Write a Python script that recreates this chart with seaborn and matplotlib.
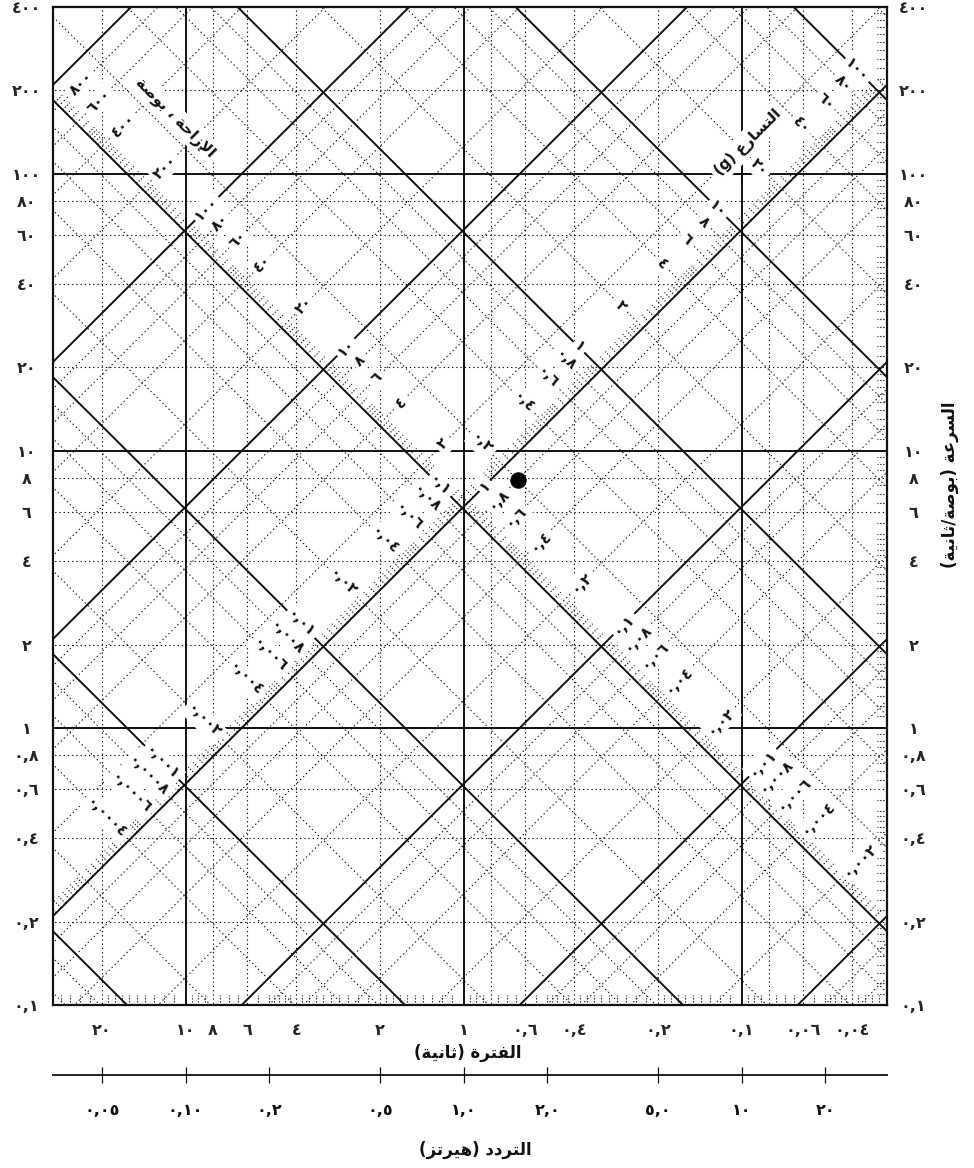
import numpy as np
import pandas as pd
import matplotlib
matplotlib.use("Agg")
import matplotlib.pyplot as plt
import seaborn as sns

# ---------------- data ----------------
G = 386.4  # in/s^2
PERIOD_TICKS = [20, 10, 8, 6, 4, 2, 1, 0.6, 0.4, 0.2, 0.1, 0.06, 0.04]
PERIOD_LABELS = ['٢٠', '١٠', '٨', '٦', '٤', '٢', '١', '٠,٦', '٠,٤', '٠,٢', '٠,١', '٠,٠٦', '٠,٠٤']
FREQ_TICKS = [0.05, 0.1, 0.2, 0.5, 1.0, 2.0, 5.0, 10, 20]
FREQ_LABELS = ['٠,٠٥', '٠,١٠', '٠,٢', '٠,٥', '١,٠', '٢,٠', '٥,٠', '١٠', '٢٠']
VEL_TICKS = [0.1, 0.2, 0.4, 0.6, 0.8, 1, 2, 4, 6, 8, 10, 20, 40, 60, 80, 100, 200, 400]
VEL_LABELS = ['٠,١', '٠,٢', '٠,٤', '٠,٦', '٠,٨', '١', '٢', '٤', '٦', '٨', '١٠', '٢٠', '٤٠', '٦٠', '٨٠',
              '١٠٠', '٢٠٠', '٤٠٠']
DISP_LABEL_VALUES = [800, 600, 400, 200, 100, 80, 60, 40, 20, 10, 8, 6, 4, 2, 1, 0.8, 0.6, 0.4, 0.2, 0.1,
                     0.08, 0.06, 0.04, 0.02, 0.01, 0.008, 0.006, 0.004, 0.002]
DISP_LABELS = ['٨٠٠', '٦٠٠', '٤٠٠', '٢٠٠', '١٠٠', '٨٠', '٦٠', '٤٠', '٢٠', '١٠', '٨', '٦', '٤', '٢', '١',
               '٠,٨', '٠,٦', '٠,٤', '٠,٢', '٠,١', '٠,٠٨', '٠,٠٦', '٠,٠٤', '٠,٠٢', '٠,٠١', '٠,٠٠٨',
               '٠,٠٠٦', '٠,٠٠٤', '٠,٠٠٢']
ACC_LABEL_VALUES = [100, 80, 60, 40, 20, 10, 8, 6, 4, 2, 1, 0.8, 0.6, 0.4, 0.2, 0.1, 0.08, 0.06, 0.04,
                    0.02, 0.01, 0.008, 0.006, 0.004, 0.002, 0.001, 0.0008, 0.0006, 0.0004]
ACC_LABELS = ['١٠٠', '٨٠', '٦٠', '٤٠', '٢٠', '١٠', '٨', '٦', '٤', '٢', '١', '٠,٨', '٠,٦', '٠,٤', '٠,٢',
              '٠,١', '٠,٠٨', '٠,٠٦', '٠,٠٤', '٠,٠٢', '٠,٠١', '٠,٠٠٨', '٠,٠٠٦', '٠,٠٠٤', '٠,٠٠٢',
              '٠,٠٠١', '٠,٠٠٠٨', '٠,٠٠٠٦', '٠,٠٠٠٤']
POINT_T = [0.64]
POINT_V = [7.86]
CROSS_T = [0.1]
CROSS_V = [100]

T_MIN, T_MAX = 0.03, 30.0
V_MIN, V_MAX = 0.1, 400.0
DECADES = [1e-5, 1e-4, 1e-3, 1e-2, 1e-1, 1, 10, 100, 1000]
MAJOR_MULT = [1]
MINOR_MULT = [2, 4, 6, 8]
FINE_MULT = [1.1, 1.2, 1.3, 1.4, 1.5, 1.6, 1.7, 1.8, 1.9, 2.2, 2.4, 2.6, 2.8, 3.0, 3.2, 3.4, 3.6, 3.8,
             4.2, 4.4, 4.6, 4.8, 5.0, 5.5, 6.5, 7.0, 7.5, 8.5, 9.0, 9.5]
A_LANE = 0.145   # acceleration (g) along which displacement labels sit
D_LANE = 1.45    # displacement (in) along which acceleration labels sit

# ---------------- Arabic shaping ----------------
FORMS = {
    '\u0627': ('\uFE8D', '\uFE8E', None, None),
    '\u0625': ('\uFE87', '\uFE88', None, None),
    '\u0628': ('\uFE8F', '\uFE90', '\uFE91', '\uFE92'),
    '\u0629': ('\uFE93', '\uFE94', None, None),
    '\u062A': ('\uFE95', '\uFE96', '\uFE97', '\uFE98'),
    '\u062B': ('\uFE99', '\uFE9A', '\uFE9B', '\uFE9C'),
    '\u062D': ('\uFEA1', '\uFEA2', '\uFEA3', '\uFEA4'),
    '\u062F': ('\uFEA9', '\uFEAA', None, None),
    '\u0631': ('\uFEAD', '\uFEAE', None, None),
    '\u0632': ('\uFEAF', '\uFEB0', None, None),
    '\u0633': ('\uFEB1', '\uFEB2', '\uFEB3', '\uFEB4'),
    '\u0635': ('\uFEB9', '\uFEBA', '\uFEBB', '\uFEBC'),
    '\u0639': ('\uFEC9', '\uFECA', '\uFECB', '\uFECC'),
    '\u0641': ('\uFED1', '\uFED2', '\uFED3', '\uFED4'),
    '\u0644': ('\uFEDD', '\uFEDE', '\uFEDF', '\uFEE0'),
    '\u0646': ('\uFEE5', '\uFEE6', '\uFEE7', '\uFEE8'),
    '\u0647': ('\uFEE9', '\uFEEA', '\uFEEB', '\uFEEC'),
    '\u0648': ('\uFEED', '\uFEEE', None, None),
    '\u064A': ('\uFEF1', '\uFEF2', '\uFEF3', '\uFEF4'),
}
LAMALEF = {'\u0627': ('\uFEFB', '\uFEFC'), '\u0625': ('\uFEF9', '\uFEFA'), '\u0623': ('\uFEF7', '\uFEF8')}


def rtl(text):
    chars = list(text)
    units = []
    i = 0
    while i < len(chars):
        c = chars[i]
        if c == '\u0644' and i + 1 < len(chars) and chars[i + 1] in LAMALEF:
            iso, fin = LAMALEF[chars[i + 1]]
            units.append((iso, fin, None, None))
            i += 2
        elif c in FORMS:
            units.append(FORMS[c])
            i += 1
        else:
            units.append(c)
            i += 1
    out = []
    for k, u in enumerate(units):
        if isinstance(u, str):
            out.append(u)
            continue
        prev = units[k - 1] if k > 0 else None
        nxt = units[k + 1] if k + 1 < len(units) else None
        jp = isinstance(prev, tuple) and prev[2] is not None
        jn = isinstance(nxt, tuple) and u[2] is not None
        if jp and jn:
            g = u[3]
        elif jp:
            g = u[1]
        elif jn:
            g = u[2]
        else:
            g = u[0]
        out.append(g)
    mirror = {'(': ')', ')': '('}
    return ''.join(mirror.get(g, g) for g in reversed(out))


# ---------------- style ----------------
sns.set_style("white")
plt.rcParams['font.family'] = ['DejaVu Sans']
plt.rcParams['font.weight'] = 'bold'
INK = '#111111'

W, H = 974, 1168
fig = plt.figure(figsize=(W / 100, H / 100), dpi=100)
L, R, TOP, BOT = 53, 887, 7, 1005
ax = fig.add_axes([L / W, 1 - BOT / H, (R - L) / W, (BOT - TOP) / H])
ax.set_xscale('log')
ax.set_yscale('log')
ax.set_xlim(T_MAX, T_MIN)
ax.set_ylim(V_MIN, V_MAX)

# ---------------- grid lines ----------------
rows = []
lid = [0]


def add_line(ts, vs, kind):
    for t, v in zip(ts, vs):
        rows.append({'T': t, 'V': v, 'line': lid[0], 'kind': kind})
    lid[0] += 1


T_EXT = [T_MAX * 1.5, T_MIN / 1.5]
for kind, mults in (('major', MAJOR_MULT), ('minor', MINOR_MULT)):
    for dec in DECADES:
        for m in mults:
            val = dec * m
            if T_MIN < val < T_MAX:
                add_line([val, val], [V_MIN / 2, V_MAX * 2], kind)
            if V_MIN < val < V_MAX:
                add_line(T_EXT, [val, val], kind)
            add_line(T_EXT, [2 * np.pi * val / t for t in T_EXT], kind)
            add_line(T_EXT, [val * G * t / (2 * np.pi) for t in T_EXT], kind)

grid = pd.DataFrame(rows)
sns.lineplot(data=grid, x='T', y='V', units='line', estimator=None, sort=False,
             style='kind', dashes={'major': '', 'minor': (1.2, 2.6)},
             size='kind', sizes={'major': 1.4, 'minor': 0.8},
             color=INK, legend=False, ax=ax, zorder=1)

# ---------------- short fine ticks ----------------
frows = []
fid = [0]


def add_tick(ts, vs):
    for t, v in zip(ts, vs):
        frows.append({'T': t, 'V': v, 'line': fid[0]})
    fid[0] += 1


kx = 10 ** (10 / 277.0)
kd = 10 ** (10 / (277.0 * np.sqrt(2)))
for dec in DECADES:
    for m in FINE_MULT:
        val = dec * m
        if T_MIN < val < T_MAX:
            add_tick([val, val], [V_MIN, V_MIN * kx])
        if V_MIN < val < V_MAX:
            add_tick([T_MIN, T_MIN * kx], [val, val])
        v0 = np.sqrt(val * G * 1.0)
        t0 = 2 * np.pi * 1.0 / v0
        if T_MIN < t0 < T_MAX and V_MIN < v0 < V_MAX:
            add_tick([t0, t0 * kd], [v0, v0 * kd])
        v1 = np.sqrt(0.1 * G * val)
        t1 = 2 * np.pi * val / v1
        if T_MIN < t1 < T_MAX and V_MIN < v1 < V_MAX:
            add_tick([t1, t1 / kd], [v1, v1 * kd])

fine = pd.DataFrame(frows)
n_before = len(ax.lines)
sns.lineplot(data=fine, x='T', y='V', units='line', estimator=None, sort=False,
             color='#1a1a1a', lw=0.8, ax=ax, zorder=1, legend=False)
for ln in ax.lines[n_before:]:
    ln.set_dashes((1.2, 1.5))

# ---------------- lane labels ----------------
box = dict(facecolor='white', edgecolor='none', pad=2.2)
for d, lab in zip(DISP_LABEL_VALUES, DISP_LABELS):
    v = np.sqrt(A_LANE * G * d)
    t = 2 * np.pi * d / v
    ax.text(t, v, lab, rotation=45, rotation_mode='anchor', ha='center', va='center',
            fontsize=10.5, fontweight='bold', color=INK, bbox=box, zorder=3)
for a, lab in zip(ACC_LABEL_VALUES, ACC_LABELS):
    v = np.sqrt(a * G * D_LANE)
    t = 2 * np.pi * D_LANE / v
    ax.text(t, v, lab, rotation=-45, rotation_mode='anchor', ha='center', va='center',
            fontsize=10.5, fontweight='bold', color=INK, bbox=box, zorder=3)

ax.text((175 - L) / (R - L), 1 - (118 - TOP) / (BOT - TOP), rtl('الإزاحة ، بوصة'),
        transform=ax.transAxes, rotation=-45, rotation_mode='anchor', ha='center', va='center',
        fontsize=11, fontweight='bold', color=INK, bbox=dict(facecolor='white', edgecolor='none', pad=3),
        zorder=3)
ax.text((748 - L) / (R - L), 1 - (142 - TOP) / (BOT - TOP), rtl('التسارع (g)'),
        transform=ax.transAxes, rotation=45, rotation_mode='anchor', ha='center', va='center',
        fontsize=11, fontweight='bold', color=INK, bbox=dict(facecolor='white', edgecolor='none', pad=3),
        zorder=3)

# ---------------- markers ----------------
sns.scatterplot(x=CROSS_T, y=CROSS_V, marker='+', s=120, color=INK, linewidth=1.3, ax=ax, zorder=5,
                legend=False)
sns.scatterplot(x=POINT_T, y=POINT_V, s=120, color='black', edgecolor='black', ax=ax, zorder=6,
                legend=False)

# ---------------- axes / ticks ----------------
for s in ax.spines.values():
    s.set_linewidth(1.6)
    s.set_color(INK)
    s.set_zorder(4)
ax.set_xticks(PERIOD_TICKS)
ax.set_xticklabels(PERIOD_LABELS)
ax.set_yticks(VEL_TICKS)
ax.set_yticklabels(VEL_LABELS)
ax.xaxis.set_minor_locator(matplotlib.ticker.NullLocator())
ax.yaxis.set_minor_locator(matplotlib.ticker.NullLocator())
ax.tick_params(axis='x', length=0, pad=13, labelsize=11.5)
ax.tick_params(axis='y', length=0, pad=19, labelsize=11.5, labelleft=True, labelright=True)
for tk in ax.yaxis.get_major_ticks():
    tk.label1.set_horizontalalignment('center')
    tk.label2.set_horizontalalignment('center')
ax.set_xlabel('')
ax.set_ylabel('')

# frequency axis
fy = 1075
fax = fig.add_axes([L / W, 1 - fy / H, (R - L) / W, 0.0001])
fax.set_xscale('log')
fax.set_xlim(1 / T_MAX, 1 / T_MIN)
for side in ('top', 'left', 'right'):
    fax.spines[side].set_visible(False)
fax.spines['bottom'].set_linewidth(1.3)
fax.spines['bottom'].set_color(INK)
fax.set_yticks([])
fax.set_xticks(FREQ_TICKS)
fax.set_xticklabels(FREQ_LABELS)
fax.xaxis.set_minor_locator(matplotlib.ticker.NullLocator())
fax.tick_params(axis='x', bottom=True, direction='inout', length=11, width=0.9, pad=15,
                labelsize=11.5, colors=INK)
fax.patch.set_alpha(0)

# axis titles
fig.text(468 / W, 1 - 1053 / H, rtl('الفترة (ثانية)'), ha='center', va='center', fontsize=12,
         fontweight='bold', color=INK)
fig.text(475 / W, 1 - 1150 / H, rtl('التردد (هيرتز)'), ha='center', va='center', fontsize=12,
         fontweight='bold', color=INK)
fig.text(950 / W, 1 - 485 / H, rtl('السرعة (بوصة/ثانية)'), ha='center', va='center', rotation=90,
         fontsize=12, fontweight='bold', color=INK)

fig.savefig('out.png', dpi=100, facecolor='white')
